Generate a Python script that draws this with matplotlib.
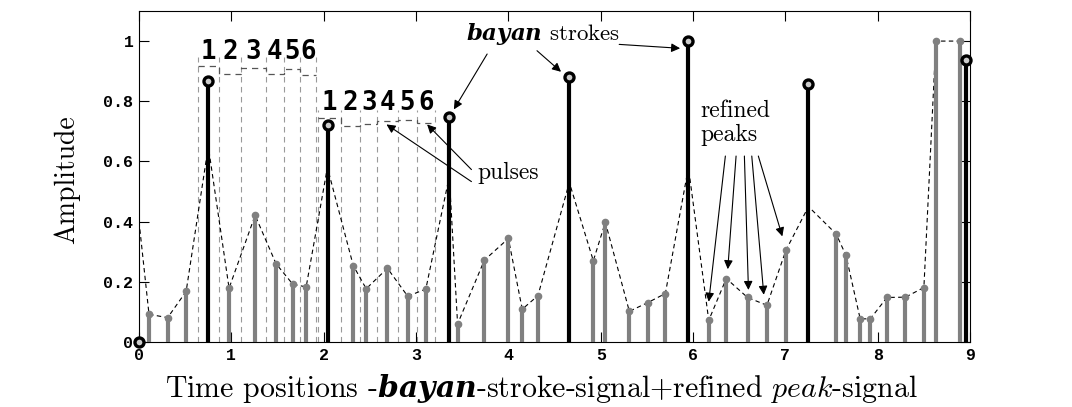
import numpy as np
import matplotlib
matplotlib.use('Agg')
from matplotlib import pyplot as plt

plt.rcParams['font.family'] = 'cmr10'
plt.rcParams['mathtext.fontset'] = 'custom'
plt.rcParams['mathtext.rm'] = 'cmr10'
plt.rcParams['mathtext.it'] = 'cmmi10'
plt.rcParams['mathtext.bf'] = 'DejaVu Serif:bold:italic'
plt.rcParams['axes.unicode_minus'] = False

# refined peak signal (grey stems)
peak_x = [0.108, 0.31, 0.51, 0.975, 1.257, 1.484, 1.665, 1.81, 2.32, 2.46, 2.69, 2.91,
          3.106, 3.45, 3.74, 4.0, 4.15, 4.32, 4.92, 5.05, 5.31, 5.51, 5.70, 6.17, 6.36,
          6.59, 6.80, 7.006, 7.55, 7.656, 7.81, 7.92, 8.10, 8.30, 8.50, 8.63, 8.89]
peak_y = [0.092, 0.081, 0.168, 0.179, 0.421, 0.26, 0.192, 0.183, 0.254, 0.177, 0.245, 0.152,
          0.176, 0.06, 0.272, 0.344, 0.109, 0.154, 0.27, 0.398, 0.102, 0.131, 0.161, 0.072, 0.211,
          0.148, 0.122, 0.305, 0.359, 0.288, 0.077, 0.077, 0.148, 0.149, 0.181, 1.0, 1.0]

# bayan stroke signal (black stems)
stroke_x = [0.0, 0.75, 2.05, 3.36, 4.66, 5.95, 7.25, 8.96]
stroke_y = [0.0, 0.866, 0.72, 0.749, 0.882, 1.0, 0.856, 0.937]

# dashed envelope
env_x = [0.0, 0.108, 0.31, 0.51, 0.75, 0.975, 1.257, 1.484, 1.665, 1.81, 2.04, 2.32, 2.46,
         2.69, 2.91, 3.106, 3.36, 3.45, 3.74, 4.0, 4.15, 4.32, 4.66, 4.92, 5.05, 5.31, 5.51,
         5.70, 5.95, 6.17, 6.36, 6.59, 6.80, 7.006, 7.25, 7.55, 7.656, 7.81, 7.92, 8.10,
         8.30, 8.50, 8.63, 8.89]
env_y = [0.4, 0.092, 0.081, 0.168, 0.65, 0.179, 0.421, 0.26, 0.192, 0.183, 0.58, 0.254, 0.177,
         0.245, 0.152, 0.176, 0.55, 0.06, 0.272, 0.344, 0.109, 0.154, 0.53, 0.27, 0.398, 0.102,
         0.131, 0.161, 0.58, 0.072, 0.211, 0.148, 0.122, 0.305, 0.45, 0.359, 0.288, 0.077,
         0.077, 0.148, 0.149, 0.181, 1.0, 1.0]

# pulse groups
pulse1_edges = [0.642, 0.867, 1.101, 1.372, 1.567, 1.740, 1.914]
pulse1_levels = [0.916, 0.892, 0.910, 0.892, 0.907, 0.887]
pulse2_edges = [1.94, 2.185, 2.394, 2.582, 2.803, 3.009, 3.207]
pulse2_levels = [0.743, 0.717, 0.725, 0.733, 0.738, 0.727]
pulse_labels = ['1', '2', '3', '4', '5', '6']

xticks = [0, 1, 2, 3, 4, 5, 6, 7, 8, 9]
yticks = [0, 0.2, 0.4, 0.6, 0.8, 1.0]
ytick_labels = ['0', '0.2', '0.4', '0.6', '0.8', '1']

fig = plt.figure(figsize=(10.72, 4.07), dpi=100)
ax = fig.add_axes([0.1297, 0.1597, 0.7752, 0.8133])

# pulses
for edges, levels, top, ytxt in [(pulse1_edges, pulse1_levels, 0.946, 0.965),
                                (pulse2_edges, pulse2_levels, 0.77, 0.793)]:
    ax.vlines(edges, 0, top, colors='#9a9a9a', linestyles=(0, (5, 4)), lw=0.8, zorder=1)
    ax.stairs(levels, edges, baseline=None, color='#555555', linestyle=(0, (5, 4)), lw=0.9, zorder=1)
    for i, lab in enumerate(pulse_labels):
        xc = 0.5 * (edges[i] + edges[i + 1])
        ax.text(xc, ytxt, lab, ha='center', va='center', fontsize=18.5,
                family='DejaVu Sans Mono', weight='bold', zorder=5)

# envelope
ax.plot(env_x, env_y, color='k', lw=0.8, dashes=(4, 3), zorder=2)

# refined peaks
ax.vlines(peak_x, 0, peak_y, colors='#808080', lw=3, zorder=3)
ax.plot(peak_x, peak_y, 'o', color='#808080', ms=4.5, zorder=3)

# bayan strokes
ax.vlines(stroke_x, 0, stroke_y, colors='k', lw=3, zorder=4)
ax.plot(stroke_x, stroke_y, 'o', mfc='#cccccc', mec='k', mew=2.4, ms=6.5, zorder=5, clip_on=False)

# annotations
ax.text(3.54, 1.023, r'$\mathbf{bayan}$ strokes', fontsize=16.5, ha='left', va='center')
ax.text(3.66, 0.563, 'pulses', fontsize=17, ha='left', va='center')
ax.text(6.08, 0.805, 'refined\npeaks', fontsize=17, ha='left', va='top', linespacing=1.1)

arrows = [((3.41, 0.773), (3.77, 0.957)), ((4.57, 0.898), (4.31, 0.968)),
          ((5.86, 0.976), (5.2, 0.989)),
          ((2.68, 0.723), (3.6, 0.533)), ((3.12, 0.723), (3.6, 0.573)),
          ((6.17, 0.134), (6.35, 0.618)), ((6.376, 0.242), (6.466, 0.618)),
          ((6.6, 0.173), (6.556, 0.618)), ((6.766, 0.157), (6.636, 0.618)),
          ((6.967, 0.351), (6.707, 0.618))]
for head, tail in arrows:
    ax.annotate('', xy=head, xytext=tail,
                arrowprops=dict(arrowstyle='-|>', lw=0.8, color='k', mutation_scale=13,
                                shrinkA=0, shrinkB=0))

ax.set_xlim(0, 9)
ax.set_ylim(0, 1.1)
ax.set_xticks(xticks)
ax.set_yticks(yticks)
ax.set_yticklabels(ytick_labels)
ax.tick_params(direction='in', top=True, right=True, length=7, width=0.8, pad=4)
for lab in ax.get_xticklabels() + ax.get_yticklabels():
    lab.set_family('Liberation Mono')
    lab.set_weight('bold')
    lab.set_fontsize(12)

ax.set_xlabel(r'Time positions -$\mathbf{bayan}$-stroke-signal+refined $\mathit{peak}$-signal',
              fontsize=21.5)
ax.xaxis.set_label_coords(0.484, -0.09)
ax.set_ylabel('Amplitude', fontsize=20)
ax.yaxis.set_label_coords(-0.071, 0.49)

plt.savefig('out.png', dpi=100)
